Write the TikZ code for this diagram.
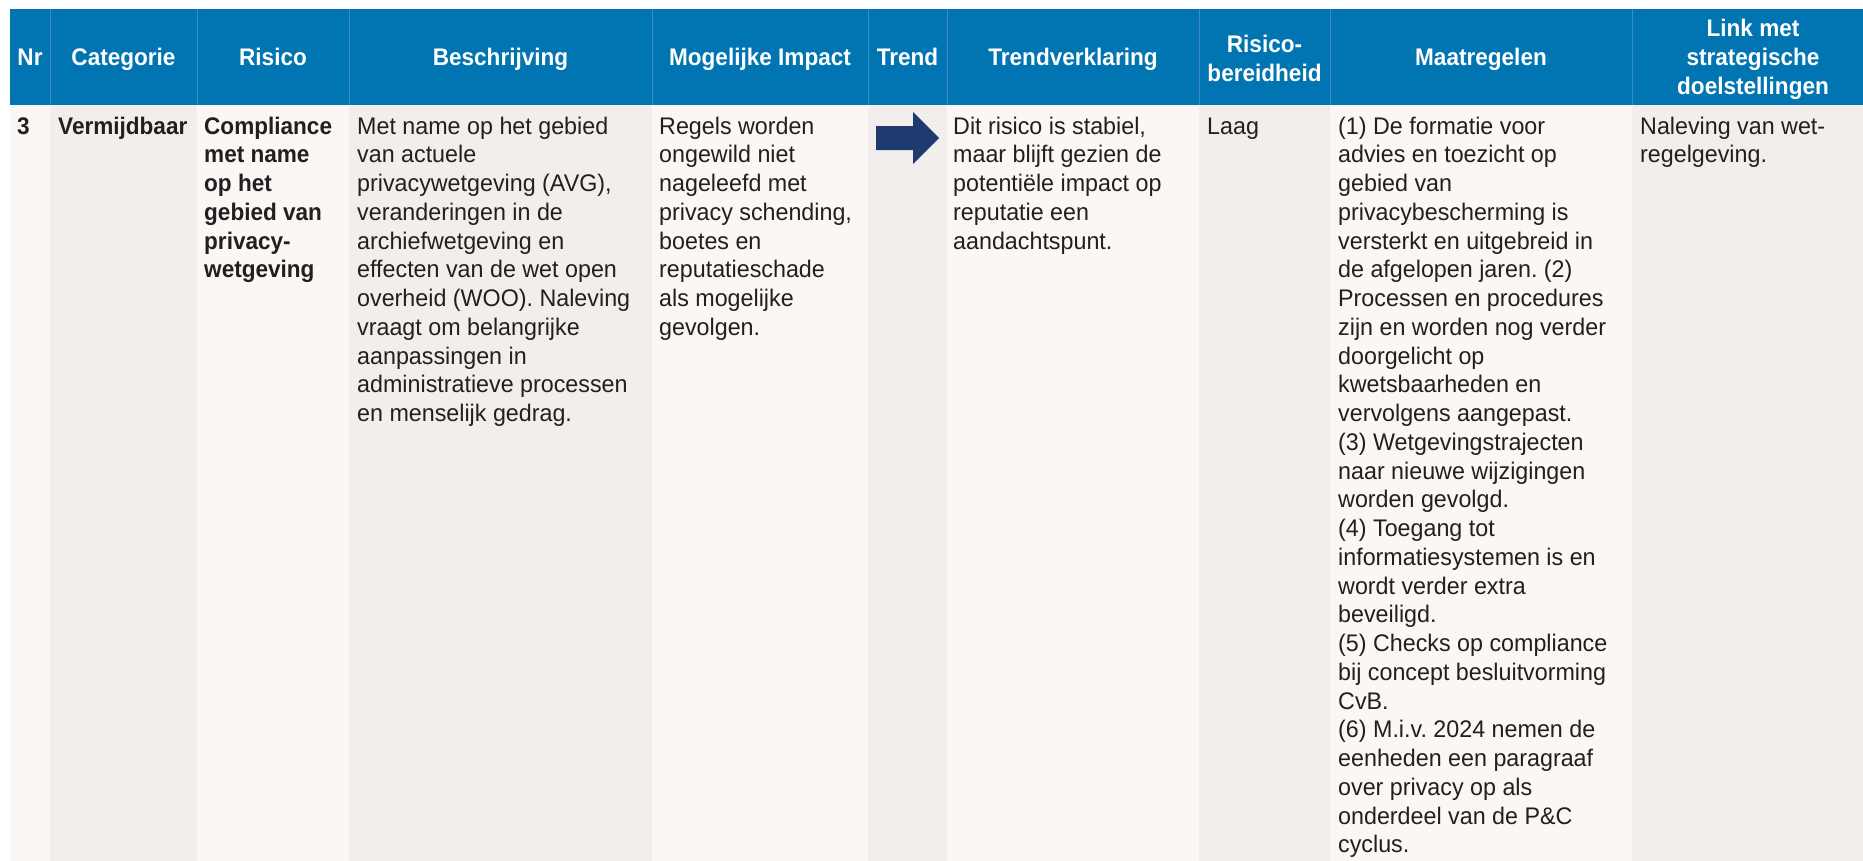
\documentclass[tikz,border=0pt]{standalone}
\usepackage{fontspec}
\setmainfont{Liberation Sans}[FakeStretch=0.97, BoldFeatures={FakeStretch=0.94}]
\definecolor{hdrblue}{HTML}{0075B2}
\definecolor{hdrline}{HTML}{3D8DC2}
\definecolor{celllight}{HTML}{FAF7F5}
\definecolor{celldark}{HTML}{F2EEEB}
\definecolor{txtdark}{HTML}{231F20}
\definecolor{arrownavy}{HTML}{1F3A6E}
\newcommand{\rbodyfont}{\fontsize{24}{28.75}\selectfont\frenchspacing}
\newcommand{\rheadfont}{\fontsize{24}{29}\selectfont\bfseries}
\begin{document}
\begin{tikzpicture}[x=1pt,y=-1pt,
  cell/.style={anchor=north west, inner sep=0pt, align=left, font=\rbodyfont, text=txtdark},
  boldcell/.style={cell, font=\rbodyfont\bfseries},
  hdr/.style={anchor=north, inner sep=0pt, align=center, font=\rheadfont, text=white},
  sep/.style={draw=hdrline, line width=1pt}]
\useasboundingbox (0,0) rectangle (1863,860);
\begin{scope}
\clip (0,0) rectangle (1863,860);
% header band
\fill[hdrblue] (10,9) rectangle (1880,105);
% body columns
\fill[celllight] (10,105) rectangle (50,870);
\fill[celldark]  (50,105) rectangle (197,870);
\fill[celllight] (197,105) rectangle (349,870);
\fill[celldark]  (349,105) rectangle (652,870);
\fill[celllight] (652,105) rectangle (868,870);
\fill[celldark]  (868,105) rectangle (947,870);
\fill[celllight] (947,105) rectangle (1199,870);
\fill[celldark]  (1199,105) rectangle (1330,870);
\fill[celllight] (1330,105) rectangle (1632,870);
\fill[celldark]  (1632,105) rectangle (1880,870);
% header separators
\foreach \xx in {50,197,349,652,868,947,1199,1330,1632}
  \draw[sep] (\xx,9) -- (\xx,105);
\end{scope}
% header texts
\node[hdr] (hNr)   at (30,44.7)    {\strut Nr};
\node[hdr] (hCat)  at (123.5,44.7) {\strut Categorie};
\node[hdr] (hRis)  at (273,44.7)   {\strut Risico};
\node[hdr] (hBes)  at (500.5,44.7) {\strut Beschrijving};
\node[hdr] (hImp)  at (760,44.7)   {\strut Mogelijke Impact};
\node[hdr] (hTr)   at (907.5,44.7) {\strut Trend};
\node[hdr] (hTv)   at (1073,44.7)  {\strut Trendverklaring};
\node[hdr] (hRb)   at (1264.5,31.7){\strut Risico-\\bereidheid};
\node[hdr] (hMt)   at (1481,44.7)  {\strut Maatregelen};
\node[hdr] (hLk)   at (1753,15.7)  {\strut Link met\\strategische\\doelstellingen};
% body texts
\node[boldcell] (bNr)  at (17,113.9)  {\strut 3};
\node[boldcell] (bCat) at (58,113.9)  {\strut Vermijdbaar};
\node[boldcell] (bRis) at (204,113.9) {\strut Compliance\\met name\\op het\\gebied van\\privacy-\\wetgeving};
\node[cell] (bBes) at (357,113.9) {\strut Met name op het gebied\\van actuele\\privacywetgeving (AVG),\\veranderingen in de\\archiefwetgeving en\\effecten van de wet open\\overheid (WOO). Naleving\\vraagt om belangrijke\\aanpassingen in\\administratieve processen\\en menselijk gedrag.};
\node[cell] (bImp) at (659,113.9) {\strut Regels worden\\ongewild niet\\nageleefd met\\privacy schending,\\boetes en\\reputatieschade\\als mogelijke\\gevolgen.};
\node[cell] (bTv) at (953,113.9) {\strut Dit risico is stabiel,\\maar blijft gezien de\\potentiële impact op\\reputatie een\\aandachtspunt.};
\node[cell] (bRb) at (1207,113.9) {\strut Laag};
\node[cell] (bMt) at (1338,113.9) {\strut (1) De formatie voor\\advies en toezicht op\\gebied van\\privacybescherming is\\versterkt en uitgebreid in\\de afgelopen jaren. (2)\\Processen en procedures\\zijn en worden nog verder\\doorgelicht op\\kwetsbaarheden en\\vervolgens aangepast.\\(3) Wetgevingstrajecten\\naar nieuwe wijzigingen\\worden gevolgd.\\(4) Toegang tot\\informatiesystemen is en\\wordt verder extra\\beveiligd.\\(5) Checks op compliance\\bij concept besluitvorming\\CvB.\\(6) M.i.v. 2024 nemen de\\eenheden een paragraaf\\over privacy op als\\onderdeel van de P\&C\\cyclus.};
\node[cell] (bLk) at (1640,113.9) {\strut Naleving van wet-\\regelgeving.};
% trend arrow
\fill[arrownavy] (876,126) -- (913,126) -- (913,112) -- (939,138) -- (913,164) -- (913,150) -- (876,150) -- cycle;
\end{tikzpicture}
\end{document}
